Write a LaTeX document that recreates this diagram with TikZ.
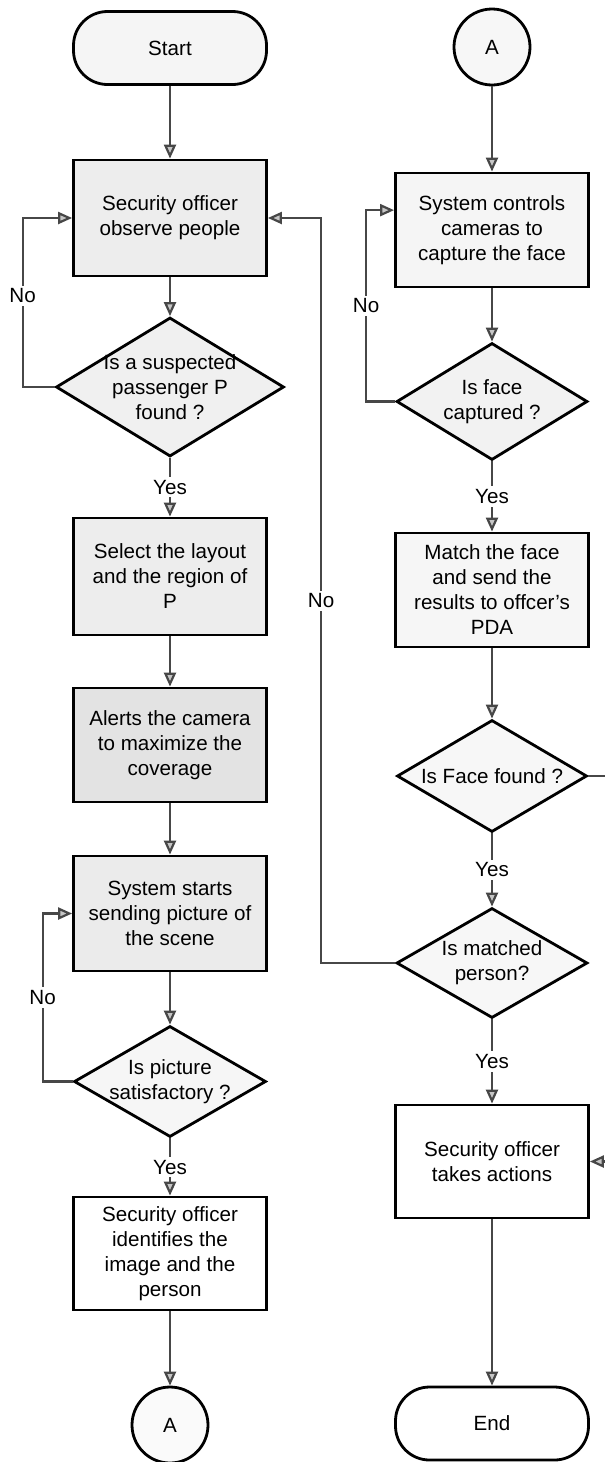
\documentclass[tikz,border=0pt]{standalone}
\usepackage{fontspec}
\setmainfont{Liberation Sans}
\usetikzlibrary{shapes.geometric,arrows.meta,calc}
\begin{document}
\begin{tikzpicture}[x=0.5pt,y=-0.5pt,
  font=\fontsize{10.3}{12.5}\selectfont,
  proc/.style={draw=black,line width=1.4pt,minimum width=96.5pt,align=center,inner sep=2pt},
  term/.style={draw=black,line width=1.4pt,rounded corners=17pt,minimum width=96.5pt,minimum height=36.5pt},
  dec/.style={diamond,draw=black,line width=1.4pt,inner sep=0pt},
  conn/.style={circle,draw=black,line width=1.4pt,minimum size=38pt,inner sep=0pt},
  flow/.style={draw=black!72,line width=1.1pt,-{Triangle[length=7pt,width=6pt,fill=gray!45]}},
  tag/.style={fill=white,inner sep=1.5pt}
]
\useasboundingbox (0,0) rectangle (605,1462);

% left column
\node[term,fill=gray!8] (start) at (170,48) {Start};
\node[proc,fill=gray!14,minimum height=58pt] (b1) at (170,218) {Security officer\\observe people};
\node[dec,fill=gray!12,minimum width=114pt,minimum height=69.5pt,
  label={[align=center]center:{Is a suspected\\passenger P\\found ?}}] (d1) at (170,387) {};
\node[proc,fill=gray!14,minimum height=58.5pt] (b2) at (170,576.5) {Select the layout\\and the region of\\P};
\node[proc,fill=gray!22,minimum height=57pt] (b3) at (170,745) {Alerts the camera\\to maximize the\\coverage};
\node[proc,fill=gray!16,minimum height=57.5pt] (b4) at (170,913.5) {System starts\\sending picture of\\the scene};
\node[dec,fill=gray!7,minimum width=96pt,minimum height=55.5pt,
  label={[align=center]center:{Is picture\\satisfactory ?}}] (d2) at (170,1081.5) {};
\node[proc,fill=white,minimum height=56.5pt] (b5) at (170,1253.5) {Security officer\\identifies the\\image and the\\person};
\node[conn,fill=gray!4] (a1) at (170,1425) {A};

% right column
\node[conn,fill=gray!6] (a2) at (492,47) {A};
\node[proc,fill=gray!8,minimum height=57pt] (r1) at (492,230) {System controls\\cameras to\\capture the face};
\node[dec,fill=gray!10,minimum width=95.5pt,minimum height=58.5pt,
  label={[align=center]center:{Is face\\captured ?}}] (rd1) at (492,401.5) {};
\node[proc,fill=gray!7,minimum height=57pt] (r2) at (492,590) {Match the face\\and send the\\results to offcer's\\PDA};
\node[dec,fill=gray!6,minimum width=95pt,minimum height=56pt,
  label={[align=center]center:{Is Face found ?}}] (rd2) at (492,776) {};
\node[dec,fill=gray!6,minimum width=95.5pt,minimum height=55pt,
  label={[align=center]center:{Is matched\\person?}}] (rd3) at (492,963) {};
\node[proc,fill=white,minimum height=56.5pt] (r4) at (492,1161.5) {Security officer\\takes actions};
\node[term,fill=white] (stop) at (492,1423.5) {End};

% left column connectors
\draw[flow] (start) -- (b1);
\draw[flow] (b1) -- (d1);
\draw[flow] (d1) -- node[tag]{Yes} (b2);
\draw[flow] (b2) -- (b3);
\draw[flow] (b3) -- (b4);
\draw[flow] (b4) -- (d2);
\draw[flow] (d2) -- node[tag]{Yes} (b5);
\draw[flow] (b5) -- (a1);
\draw[flow] (d1.west) -- ++(-32,0) |- node[tag,pos=0.27]{No} (b1.west);
\draw[flow] (d2.west) -- ++(-30,0) |- node[tag,pos=0.25]{No} (b4.west);

% right column connectors
\draw[flow] (a2) -- (r1);
\draw[flow] (r1) -- (rd1);
\draw[flow] (rd1) -- node[tag]{Yes} (r2);
\draw[flow] (r2) -- (rd2);
\draw[flow] (rd2) -- node[tag]{Yes} (rd3);
\draw[flow] (rd3) -- node[tag]{Yes} (r4);
\draw[flow] (r4) -- (stop);
\draw[flow] (rd1.west) -- ++(-29,0) |- node[tag,pos=0.25]{No} ($(r1.north west)!0.33!(r1.south west)$);
\draw[flow] (rd3.west) -- ++(-74,0) |- node[tag,pos=0.243]{No} (b1.east);
\draw[flow] (rd2.east) -- ++(60,0) |- (r4.east);
\end{tikzpicture}
\end{document}
